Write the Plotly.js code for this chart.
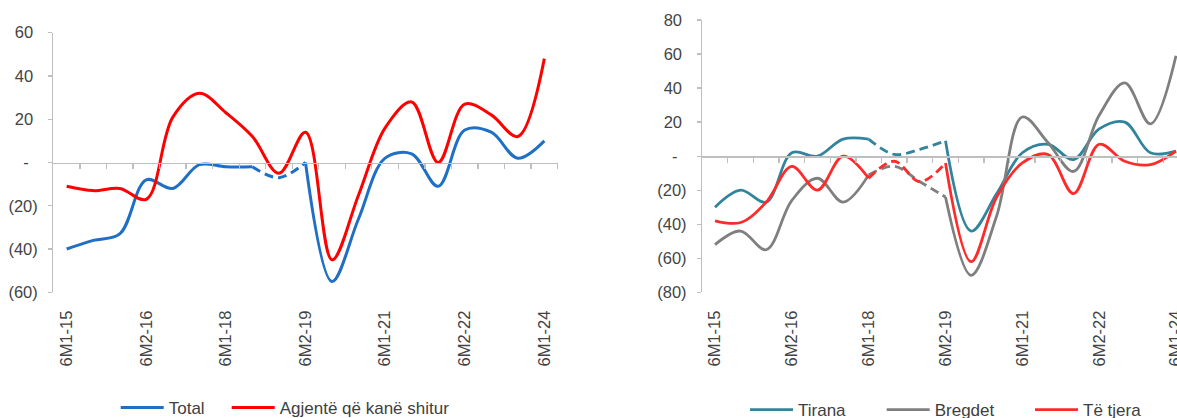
<!DOCTYPE html>
<html><head><meta charset="utf-8">
<script src="https://cdn.plot.ly/plotly-3.0.1.min.js"></script>
<style>html,body{margin:0;padding:0;overflow:hidden;background:#fff}#chart{width:1200px;height:440px}</style>
</head><body><div id="chart"></div>
<script>
// ---- data ----
const periods = ['6M1-15','6M2-15','6M1-16','6M2-16','6M1-17','6M2-17','6M1-18','6M2-18','6M1-19','6M2-19',
                 '6M1-20','6M2-20','6M1-21','6M2-21','6M1-22','6M2-22','6M1-23','6M2-23','6M1-24'];
const shownPeriods = ['6M1-15','6M2-16','6M1-18','6M2-19','6M1-21','6M2-22','6M1-24'];

// left panel
const total  = [-40,-36,-33,-8,-12,-1,-2,-2,-7,0,-55,-26,2,4,-11,15,14,2,10];
const agjente = [-11,-13,-12,-17,21,32,23,12,-5,14,-45,-15,16,28,0,27,22,12,48];
const leftYVals = [-60,-40,-20,0,20,40,60];
const leftYText = ['(60)','(40)','(20)','-\u00a0\u00a0','20\u00a0','40\u00a0','60\u00a0'];
const leftNames = ['Total','Agjentë që kanë shitur'];

// right panel
const tirana  = [-30,-20,-27,2,0,10,10,1,4,9,-44,-22,2,7,-2,16,20,2,3];
const bregdet = [-52,-44,-55,-26,-13,-27,-11,-6,-15,-24,-70,-35,23,8,-9,24,43,19,59];
const tetjera = [-38,-39,-27,-6,-20,0,-13,-3,-15,-4,-62,-24,-4,1,-22,7,-3,-5,3];
const rightYVals = [-80,-60,-40,-20,0,20,40,60,80];
const rightYText = ['(80)','(60)','(40)','(20)','-\u00a0\u00a0','20\u00a0','40\u00a0','60\u00a0','80\u00a0'];
const rightNames = ['Tirana','Bregdet','Të tjera'];

// dashed (estimated) stretches, as period indices
const leftDash = [7, 9];
const rightDash = [6, 9];

// ---- helpers ----
const W = 1200, H = 440;
const px = v => v / W, py = v => (H - v) / H;
const FONT = 'Liberation Sans, Arial, sans-serif';
const idx = periods.map((_, i) => i);
const shownIdx = shownPeriods.map(p => periods.indexOf(p));
const boundaries = idx.map(i => i + 0.5);

function seg(arr, a, b) { return { x: idx.slice(a, b + 1), y: arr.slice(a, b + 1) }; }

function series(arr, name, color, width, xa, ya, legend, dash) {
  const common = { type: 'scatter', mode: 'lines', xaxis: xa, yaxis: ya, legend: legend,
                   legendgroup: name, name: name, hoverinfo: 'skip' };
  const ln = d => ({ color: color, width: width, shape: 'spline', smoothing: 1, dash: d });
  if (!dash) return [Object.assign({}, common, seg(arr, 0, arr.length - 1), { line: ln('solid') })];
  return [
    Object.assign({}, common, seg(arr, 0, dash[0]), { line: ln('solid') }),
    Object.assign({}, common, seg(arr, dash[0], dash[1]), { line: ln('9px,5px'), showlegend: false }),
    Object.assign({}, common, seg(arr, dash[1], arr.length - 1), { line: ln('solid'), showlegend: false })
  ];
}

const traces = [].concat(
  series(total, leftNames[0], '#1F6FC5', 3, 'x', 'y', 'legend', leftDash),
  series(agjente, leftNames[1], '#FF0000', 3, 'x', 'y', 'legend2', null),
  series(tirana, rightNames[0], '#31849B', 2.8, 'x2', 'y2', 'legend3', rightDash),
  series(bregdet, rightNames[1], '#7F7F7F', 2.8, 'x2', 'y2', 'legend4', rightDash),
  series(tetjera, rightNames[2], '#FF2A2A', 2.8, 'x2', 'y2', 'legend5', rightDash),
  [{ type: 'scatter', x: [], y: [], xaxis: 'x3', yaxis: 'y', showlegend: false, hoverinfo: 'skip' },
   { type: 'scatter', x: [], y: [], xaxis: 'x4', yaxis: 'y2', showlegend: false, hoverinfo: 'skip' }]
);

const AX = '#BFBFBF', TXT = '#444444';
const tickFont = { family: FONT, size: 16.5, color: TXT };

function catAxis(dom, anchor) {
  return { domain: dom, anchor: anchor, range: [-0.5, idx.length - 0.5], tickmode: 'array',
           tickvals: shownIdx, ticktext: shownPeriods, tickangle: -90, ticks: '', showline: false,
           showgrid: false, zeroline: false, tickfont: tickFont, ticklabelstandoff: 14, fixedrange: true };
}
function valAxis(dom, anchor, rng, vals, text) {
  return { domain: dom, anchor: anchor, range: rng, tickmode: 'array', tickvals: vals, ticktext: text,
           showline: true, linecolor: AX, linewidth: 1.3, ticks: 'outside', ticklen: 4, tickcolor: AX,
           tickwidth: 1.3, showgrid: false, zeroline: false, tickfont: tickFont, ticklabelstandoff: 7,
           fixedrange: true };
}
function zeroAxis(over, pos) {
  return { overlaying: over, anchor: 'free', position: pos, side: 'bottom', range: [-0.5, idx.length - 0.5],
           tickmode: 'array', tickvals: boundaries, ticks: 'outside', ticklen: 5, tickcolor: AX, tickwidth: 1.3,
           showticklabels: false, showline: true, linecolor: AX, linewidth: 1.6, showgrid: false,
           zeroline: false, fixedrange: true };
}
function leg(xStart, yMid) {
  return { orientation: 'h', x: px(xStart - 5), xanchor: 'left', y: py(yMid), yanchor: 'middle',
           font: { family: FONT, size: 17, color: '#404040' }, bgcolor: 'rgba(0,0,0,0)',
           itemwidth: 43, borderwidth: 0 };
}

const L = { x0: 53.4, x1: 557.6, y0: 32.7, y1: 292.3 };
const R = { x0: 702.2, x1: 1188.8, y0: 20, y1: 292.3 };

const layout = {
  width: W, height: H, margin: { l: 0, r: 0, t: 0, b: 0 },
  paper_bgcolor: '#fff', plot_bgcolor: 'rgba(0,0,0,0)',
  font: { family: FONT, color: TXT },
  xaxis: catAxis([px(L.x0), px(L.x1)], 'y'),
  yaxis: valAxis([py(L.y1), py(L.y0)], 'x', [-60, 60], leftYVals, leftYText),
  xaxis2: catAxis([px(R.x0), px(R.x1)], 'y2'),
  yaxis2: valAxis([py(R.y1), py(R.y0)], 'x2', [-80, 80], rightYVals, rightYText),
  xaxis3: zeroAxis('x', py((L.y0 + L.y1) / 2)),
  xaxis4: zeroAxis('x2', py((R.y0 + R.y1) / 2)),
  legend: leg(120.7, 408),
  legend2: leg(231.7, 408),
  legend3: leg(750, 410),
  legend4: leg(886.7, 410),
  legend5: leg(1035, 410),
  showlegend: true
};

Plotly.newPlot('chart', traces, layout, { displayModeBar: false, staticPlot: true });
</script></body></html>
